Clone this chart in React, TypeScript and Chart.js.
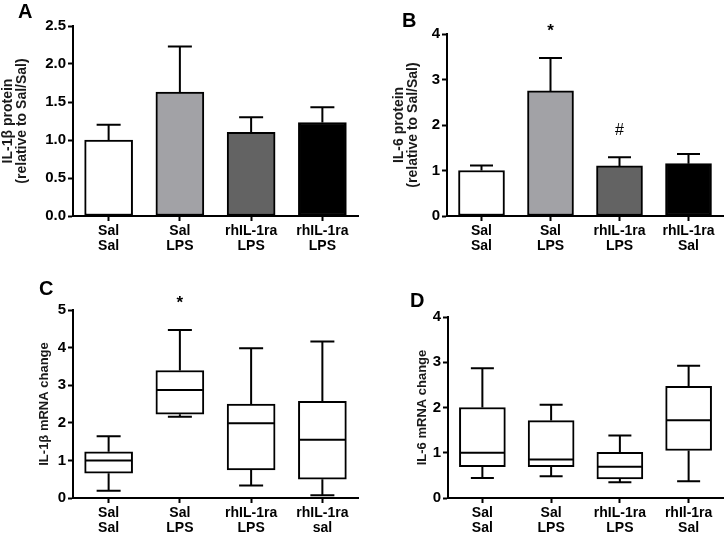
import React, { useEffect, useRef } from 'react';
import { Chart, registerables } from 'chart.js';

Chart.register(...registerables);

const FONT = "'Liberation Sans', Arial, sans-serif";

// ---- Data ----
const labelsA = [['Sal', 'Sal'], ['Sal', 'LPS'], ['rhIL-1ra', 'LPS'], ['rhIL-1ra', 'LPS']];
const labelsB = [['Sal', 'Sal'], ['Sal', 'LPS'], ['rhIL-1ra', 'LPS'], ['rhIL-1ra', 'Sal']];
const labelsC = [['Sal', 'Sal'], ['Sal', 'LPS'], ['rhIL-1ra', 'LPS'], ['rhIL-1ra', 'sal']];
const labelsD = [['Sal', 'Sal'], ['Sal', 'LPS'], ['rhIL-1ra', 'LPS'], ['rhIl-1ra', 'Sal']];

const meanA = [1.0, 1.63, 1.1, 1.23];
const errA = [0.2, 0.6, 0.2, 0.2];
const meanB = [1.0, 2.75, 1.1, 1.15];
const errB = [0.11, 0.72, 0.19, 0.21];
const barColors = ['#ffffff', '#a2a2a6', '#636363', '#000000'];

const minC = [0.19, 2.16, 0.33, 0.07];
const q1C = [0.66, 2.23, 0.75, 0.5];
const medC = [1.0, 2.87, 1.99, 1.55];
const q3C = [1.23, 3.39, 2.5, 2.57];
const maxC = [1.64, 4.47, 3.98, 4.16];

const minD = [0.44, 0.48, 0.35, 0.37];
const q1D = [0.69, 0.69, 0.42, 1.05];
const medD = [1.0, 0.85, 0.69, 1.72];
const q3D = [2.0, 1.71, 1.01, 2.47];
const maxD = [2.87, 2.06, 1.38, 2.92];

const notesB = [{ index: 1, text: '*' }, { index: 2, text: '#' }];
const notesC = [{ index: 1, text: '*' }];

const titleA = ['IL-1\u03b2 protein', '(relative to Sal/Sal)'];
const titleB = ['IL-6 protein', '(relative to Sal/Sal)'];
const titleC = 'IL-1\u03b2 mRNA change';
const titleD = 'IL-6 mRNA change';

// ---- Helpers ----
function noteDraw(ctx, x, top, text) {
  ctx.save();
  ctx.fillStyle = '#000';
  ctx.textAlign = 'center';
  ctx.textBaseline = 'alphabetic';
  ctx.font = text === '*' ? `bold 17px ${FONT}` : `16px ${FONT}`;
  ctx.fillText(text, x, top - 22);
  ctx.restore();
}

function scales(o) {
  const tickFont = { family: FONT, size: 14, weight: 'bold', lineHeight: 1.07 };
  return {
    x: {
      offset: true,
      grid: { display: true, drawOnChartArea: false, offset: false, drawTicks: true, tickLength: 5, tickWidth: 2, tickColor: '#000' },
      border: { display: true, color: '#000', width: 2 },
      ticks: { color: '#000', font: tickFont, padding: 3, maxRotation: 0, autoSkip: false },
      afterFit: (s) => { s.height = o.xHeight; },
    },
    y: {
      min: 0,
      max: o.yMax,
      grid: { display: true, drawOnChartArea: false, drawTicks: true, tickLength: 5, tickWidth: 2, tickColor: '#000' },
      border: { display: true, color: '#000', width: 2 },
      ticks: {
        color: '#000',
        font: { family: FONT, size: 15, weight: 'bold' },
        padding: 2,
        stepSize: o.step,
        callback: (v) => Number(v).toFixed(o.decimals),
      },
      title: {
        display: true,
        text: o.title,
        color: '#1a1a1a',
        font: { family: FONT, size: o.titleSize, weight: 'bold', lineHeight: 1.0 },
        padding: { top: o.titlePad, bottom: 0 },
      },
      afterFit: (s) => { s.width = o.yWidth; },
    },
  };
}

function barConfig(o) {
  const errPlugin = {
    id: 'errbars',
    afterDatasetsDraw(chart) {
      const { ctx } = chart;
      const meta = chart.getDatasetMeta(0);
      const y = chart.scales.y;
      ctx.save();
      ctx.strokeStyle = '#000';
      ctx.lineWidth = 2;
      meta.data.forEach((bar, i) => {
        const x = bar.x;
        const w = bar.width;
        const y0 = y.getPixelForValue(o.means[i]);
        const y1 = y.getPixelForValue(o.means[i] + o.errs[i]);
        ctx.beginPath();
        ctx.moveTo(x, y0);
        ctx.lineTo(x, y1);
        ctx.moveTo(x - w / 4, y1);
        ctx.lineTo(x + w / 4, y1);
        ctx.stroke();
      });
      ctx.restore();
      (o.notes || []).forEach((n) => {
        const bar = meta.data[n.index];
        noteDraw(ctx, bar.x, y.getPixelForValue(o.means[n.index] + o.errs[n.index]), n.text);
      });
    },
  };
  return {
    type: 'bar',
    data: {
      labels: o.labels,
      datasets: [{
        data: o.means,
        backgroundColor: barColors,
        borderColor: '#000',
        borderWidth: 2,
        borderSkipped: false,
        barThickness: o.barThickness,
      }],
    },
    options: {
      responsive: false,
      animation: false,
      devicePixelRatio: 1,
      layout: { padding: o.pad },
      plugins: { legend: { display: false }, tooltip: { enabled: false } },
      scales: scales(o),
    },
    plugins: [errPlugin],
  };
}

function boxConfig(o) {
  const boxPlugin = {
    id: 'boxes',
    afterDatasetsDraw(chart) {
      const { ctx } = chart;
      const meta = chart.getDatasetMeta(0);
      const y = chart.scales.y;
      ctx.save();
      ctx.strokeStyle = '#000';
      ctx.lineWidth = 2;
      meta.data.forEach((bar, i) => {
        const x = bar.x;
        const w = bar.width;
        const ymed = y.getPixelForValue(o.med[i]);
        const yq1 = y.getPixelForValue(o.q1[i]);
        const yq3 = y.getPixelForValue(o.q3[i]);
        const ymin = y.getPixelForValue(o.min[i]);
        const ymax = y.getPixelForValue(o.max[i]);
        ctx.beginPath();
        ctx.moveTo(x - w / 2 + 1, ymed);
        ctx.lineTo(x + w / 2 - 1, ymed);
        ctx.moveTo(x, yq3);
        ctx.lineTo(x, ymax);
        ctx.moveTo(x - w / 4, ymax);
        ctx.lineTo(x + w / 4, ymax);
        ctx.moveTo(x, yq1);
        ctx.lineTo(x, ymin);
        ctx.moveTo(x - w / 4, ymin);
        ctx.lineTo(x + w / 4, ymin);
        ctx.stroke();
      });
      ctx.restore();
      (o.notes || []).forEach((n) => {
        const bar = meta.data[n.index];
        noteDraw(ctx, bar.x, y.getPixelForValue(o.max[n.index]), n.text);
      });
    },
  };
  return {
    type: 'bar',
    data: {
      labels: o.labels,
      datasets: [{
        data: o.q1.map((q, i) => [q, o.q3[i]]),
        backgroundColor: '#ffffff',
        borderColor: '#000',
        borderWidth: 2,
        borderSkipped: false,
        barThickness: o.barThickness,
      }],
    },
    options: {
      responsive: false,
      animation: false,
      devicePixelRatio: 1,
      layout: { padding: o.pad },
      plugins: { legend: { display: false }, tooltip: { enabled: false } },
      scales: scales(o),
    },
    plugins: [boxPlugin],
  };
}

function Panel({ left, top, width, height, make }) {
  const ref = useRef(null);
  useEffect(() => {
    const chart = new Chart(ref.current, make());
    return () => chart.destroy();
  }, []);
  return (
    <canvas
      ref={ref}
      width={width}
      height={height}
      style={{ position: 'absolute', left, top, width, height }}
    />
  );
}

const letterStyle = (left, top) => ({
  position: 'absolute',
  left,
  top,
  font: `bold 20px ${FONT}`,
  lineHeight: '20px',
  color: '#000',
});

export default function App() {
  return (
    <div style={{ position: 'absolute', left: 0, top: 0, width: 725, height: 535, background: '#fff', overflow: 'hidden' }}>
      <Panel left={0} top={0} width={362} height={268} make={() => barConfig({
        labels: labelsA, means: meanA, errs: errA, yMax: 2.5, step: 0.5, decimals: 1,
        title: titleA, titleSize: 14, titlePad: 1, yWidth: 73, xHeight: 52, pad: { top: 26, right: 4, left: 0, bottom: 0 },
        barThickness: 48,
      })} />
      <Panel left={362} top={0} width={363} height={268} make={() => barConfig({
        labels: labelsB, means: meanB, errs: errB, yMax: 4, step: 1, decimals: 0, notes: notesB,
        title: titleB, titleSize: 14, titlePad: 30, yWidth: 85, xHeight: 52, pad: { top: 34, right: 2, left: 0, bottom: 0 },
        barThickness: 46,
      })} />
      <Panel left={0} top={268} width={362} height={267} make={() => boxConfig({
        labels: labelsC, min: minC, q1: q1C, med: medC, q3: q3C, max: maxC, yMax: 5, step: 1, decimals: 0, notes: notesC,
        title: titleC, titleSize: 13, titlePad: 38, yWidth: 73, xHeight: 37, pad: { top: 42, right: 4, left: 0, bottom: 0 },
        barThickness: 48,
      })} />
      <Panel left={362} top={268} width={363} height={267} make={() => boxConfig({
        labels: labelsD, min: minD, q1: q1D, med: medD, q3: q3D, max: maxD, yMax: 4, step: 1, decimals: 0,
        title: titleD, titleSize: 13, titlePad: 54, yWidth: 86, xHeight: 37, pad: { top: 49, right: 2, left: 0, bottom: 0 },
        barThickness: 46,
      })} />
      <div style={letterStyle(18, 1)}>A</div>
      <div style={letterStyle(402, 10)}>B</div>
      <div style={letterStyle(39, 278)}>C</div>
      <div style={letterStyle(410, 290)}>D</div>
    </div>
  );
}
